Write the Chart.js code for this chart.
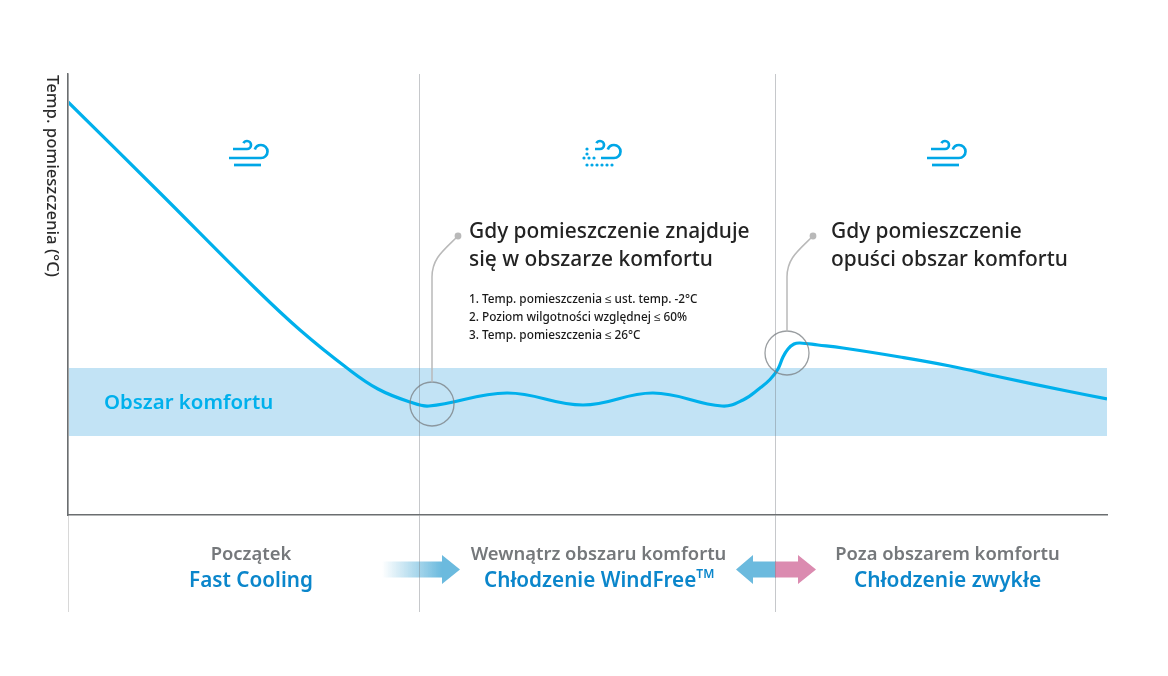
<!DOCTYPE html>
<html lang="pl">
<head>
<meta charset="utf-8">
<title>Obszar komfortu</title>
<script src="https://cdn.jsdelivr.net/npm/chart.js@4"></script>
<style>
  html, body { margin: 0; padding: 0; background: #ffffff; }
  #wrap { position: relative; width: 1168px; height: 676px; }
</style>
</head>
<body>
<div id="wrap"><canvas id="chart" width="1168" height="676"></canvas></div>
<script>
// Room temperature over time, in scale units.
const timeValues = [0, 92, 187, 232, 279, 310, 342, 361, 439, 515, 585, 654, 675, 692, 702, 710, 715, 720, 726, 732, 750, 775, 832, 882, 932, 999, 1039];
const tempValues = [413, 322, 227, 185, 147, 126, 113, 109, 122, 110, 122, 109, 115, 127, 135.5, 146, 158, 166, 171, 172, 170, 167, 158, 149, 138, 124, 116];
const comfortLow = 79;
const comfortHigh = 147;
const phaseBoundaries = [0, 351, 707];
const phaseTitles = ['Początek', 'Wewnątrz obszaru komfortu', 'Poza obszarem komfortu'];
const phaseModes = ['Fast Cooling', 'Chłodzenie WindFree', 'Chłodzenie zwykłe'];
const yAxisTitle = 'Temp. pomieszczenia (°C)';
const comfortLabel = 'Obszar komfortu';
const calloutOne = ['Gdy pomieszczenie znajduje', 'się w obszarze komfortu'];
const calloutTwo = ['Gdy pomieszczenie', 'opuści obszar komfortu'];
const conditions = ['1. Temp. pomieszczenia ≤ ust. temp. -2°C', '2. Poziom wilgotności względnej ≤ 60%', '3. Temp. pomieszczenia ≤ 26°C'];
const markerTimes = [364, 719];
const markerTemps = [111, 162];
</script>
<script>
const FONT = '"Noto Sans", sans-serif';
const timeEnds = [0, 1039];
const temperature = timeValues.map((t, i) => ({ x: t, y: tempValues[i] }));
const lowEdge = timeEnds.map(t => ({ x: t, y: comfortLow }));
const highEdge = timeEnds.map(t => ({ x: t, y: comfortHigh }));

function text(ctx, str, x, y, font, color, align) {
  ctx.font = font;
  ctx.fillStyle = color;
  ctx.textAlign = align || 'left';
  ctx.textBaseline = 'alphabetic';
  ctx.fillText(str, x, y);
}

// Wind glyph: two curled strokes plus a lower bar; the dotted form replaces the straight parts with dots.
function windIcon(ctx, cx, cy, dotted) {
  ctx.save();
  ctx.translate(cx, cy);
  ctx.strokeStyle = '#00a6e6';
  ctx.fillStyle = '#00a6e6';
  ctx.lineWidth = 2.7;
  ctx.lineCap = 'butt';
  ctx.beginPath();
  ctx.moveTo(dotted ? -7 : -16, -5);
  ctx.lineTo(-2, -5);
  ctx.arc(-2, -9, 4, Math.PI / 2, -Math.PI * 0.85, true);
  ctx.stroke();
  ctx.beginPath();
  ctx.moveTo(dotted ? -1 : -20, 4);
  ctx.lineTo(12, 4);
  ctx.arc(12, -2.5, 6.5, Math.PI / 2, -Math.PI * 0.9, true);
  ctx.stroke();
  if (dotted) {
    [[-15, -5], [-15, 0], [-18, 4], [-13, 4], [-8, 4], [-15, 11], [-10, 11], [-5, 11], [0, 11], [5, 11], [10, 11]].forEach(p => {
      ctx.beginPath();
      ctx.arc(p[0], p[1], 1.6, 0, Math.PI * 2);
      ctx.fill();
    });
  } else {
    ctx.beginPath();
    ctx.moveTo(-15, 11);
    ctx.lineTo(12, 11);
    ctx.stroke();
  }
  ctx.restore();
}

function arrowPath(ctx, tail, headBase, tip, cy) {
  ctx.beginPath();
  ctx.moveTo(tail, cy - 8);
  ctx.lineTo(headBase, cy - 8);
  ctx.lineTo(headBase, cy - 14.5);
  ctx.lineTo(tip, cy);
  ctx.lineTo(headBase, cy + 14.5);
  ctx.lineTo(headBase, cy + 8);
  ctx.lineTo(tail, cy + 8);
  ctx.closePath();
}

// Callout leader: circle on the curve, rising stem, bend towards a dot.
function callout(ctx, x, y) {
  const r = 22;
  const dx = 26, top = 277, dotY = 236;
  ctx.save();
  ctx.strokeStyle = 'rgba(120,125,130,0.75)';
  ctx.lineWidth = 1.3;
  ctx.beginPath();
  ctx.arc(x, y, r, 0, Math.PI * 2);
  ctx.stroke();
  ctx.strokeStyle = '#b9b9b9';
  ctx.lineWidth = 1.5;
  ctx.beginPath();
  ctx.moveTo(x, y - r);
  ctx.lineTo(x, top);
  ctx.bezierCurveTo(x, 258, x + 12, 250, x + dx, dotY);
  ctx.stroke();
  ctx.fillStyle = '#b9b9b9';
  ctx.beginPath();
  ctx.arc(x + dx, dotY, 3.4, 0, Math.PI * 2);
  ctx.fill();
  ctx.restore();
}

const decorations = {
  id: 'decorations',
  afterDatasetsDraw(chart) {
    const { ctx, scales: { x: sx, y: sy } } = chart;
    ctx.save();

    // Rotated y-axis caption, reading downwards.
    ctx.save();
    ctx.translate(47, 75);
    ctx.rotate(Math.PI / 2);
    text(ctx, yAxisTitle, 0, 0, '500 16.7px ' + FONT, '#2b2b2b');
    ctx.restore();

    // Callouts on the curve.
    markerTimes.forEach((t, i) => callout(ctx, sx.getPixelForValue(t), sy.getPixelForValue(markerTemps[i])));

    // Wind icons per phase.
    windIcon(ctx, 249, 154, false);
    windIcon(ctx, 602, 154, true);
    windIcon(ctx, 947, 154, false);

    text(ctx, comfortLabel, 104, 409, '600 20.4px ' + FONT, '#00b0ec');

    calloutOne.forEach((s, i) => text(ctx, s, 469, 238 + i * 28, '500 20.9px ' + FONT, '#232323'));
    calloutTwo.forEach((s, i) => text(ctx, s, 831, 238 + i * 28, '500 20.9px ' + FONT, '#232323'));
    conditions.forEach((s, i) => text(ctx, s, 469, 303 + i * 18, '500 11.8px ' + FONT, '#1a1a1a'));

    // Phase captions under the axis.
    const centers = [251, 598.5, 947.5];
    phaseTitles.forEach((s, i) => text(ctx, s, centers[i], 560, '600 18.4px ' + FONT, '#75787b', 'center'));
    phaseModes.forEach((s, i) => {
      if (i === 1) {
        ctx.font = '600 20.7px ' + FONT;
        const w = ctx.measureText(s).width;
        text(ctx, s, 484, 587, '600 20.7px ' + FONT, '#0b86cb');
        text(ctx, 'TM', 484 + w, 578, '600 12px ' + FONT, '#0b86cb');
      } else {
        text(ctx, s, centers[i], 587, '600 ' + (i === 2 ? 20.9 : 20.7) + 'px ' + FONT, '#0b86cb', 'center');
      }
    });

    // Transition arrows.
    const g = ctx.createLinearGradient(382, 0, 442, 0);
    g.addColorStop(0, 'rgba(107,186,222,0)');
    g.addColorStop(1, 'rgba(107,186,222,1)');
    ctx.fillStyle = g;
    arrowPath(ctx, 382, 442, 460, 569.5);
    ctx.fill();

    ctx.fillStyle = '#6bbade';
    arrowPath(ctx, 776, 753, 736, 569.5);
    ctx.fill();
    ctx.fillStyle = '#db8bb0';
    arrowPath(ctx, 775, 798, 816, 569.5);
    ctx.fill();
    ctx.restore();
  }
};

new Chart(document.getElementById('chart'), {
  type: 'line',
  data: {
    datasets: [
      { label: 'Temperatura', data: temperature, borderColor: '#00b0ec', borderWidth: 3.2, pointRadius: 0, tension: 0.4, fill: false, order: 0 },
      { label: 'Dolna granica', data: lowEdge, borderWidth: 0, pointRadius: 0, fill: false, order: 2 },
      { label: 'Górna granica', data: highEdge, borderWidth: 0, pointRadius: 0, backgroundColor: '#c2e3f5', fill: '-1', order: 2 }
    ]
  },
  options: {
    responsive: false,
    animation: false,
    layout: { padding: { left: 68, right: 61, top: 74, bottom: 64 } },
    plugins: { legend: { display: false }, tooltip: { enabled: false } },
    scales: {
      x: {
        type: 'linear', min: timeEnds[0], max: timeEnds[1],
        afterBuildTicks: axis => { axis.ticks = phaseBoundaries.map(v => ({ value: v })); },
        ticks: { display: false },
        border: { display: true, color: '#6b6e70', width: 1.5, z: 2 },
        grid: {
          drawTicks: true, tickLength: 97, z: 1,
          color: c => c.tick && c.tick.value === 0 ? '#d8d8d8' : 'rgba(120,125,130,0.42)',
          tickColor: c => c.tick && c.tick.value === 0 ? '#d8d8d8' : 'rgba(120,125,130,0.42)',
          lineWidth: 1
        }
      },
      y: {
        type: 'linear', min: 0, max: 441,
        ticks: { display: false },
        border: { display: true, color: '#6b6e70', width: 1.5, z: 2 },
        grid: { display: false, drawTicks: false, z: 1 }
      }
    }
  },
  plugins: [decorations]
});
</script>
</body>
</html>
